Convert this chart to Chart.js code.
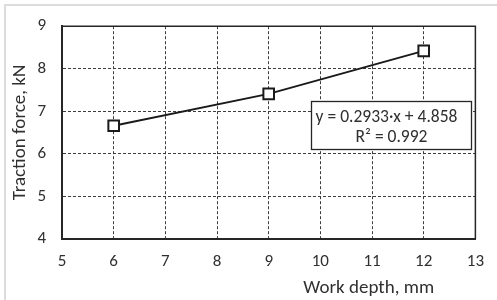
<!DOCTYPE html>
<html>
<head>
<meta charset="utf-8">
<script src="https://cdn.jsdelivr.net/npm/chart.js@4/dist/chart.umd.min.js"></script>
<style>
  html, body { margin: 0; padding: 0; background: #fff; }
  #wrap { position: relative; width: 497px; height: 300px; }
</style>
</head>
<body>
<div id="wrap"><canvas id="c" width="497" height="300"></canvas></div>
<script>
// ---- data ----
const workDepth = [6, 9, 12];
const tractionForce = [6.66, 7.41, 8.42];
const xTickValues = [5, 6, 7, 8, 9, 10, 11, 12, 13];
const yTickValues = [4, 5, 6, 7, 8, 9];
const xAxisTitle = 'Work depth, mm';
const yAxisTitle = 'Traction force, kN';
const equationLines = ['y = 0.2933·x + 4.858', 'R² = 0.992'];

const FONT = 'Carlito, Lato, sans-serif';
const TEXT_COLOR = '#303030';

const points = workDepth.map((x, i) => ({ x: x, y: tractionForce[i] }));

const decorPlugin = {
  id: 'decor',
  beforeDraw(chart) {
    const ctx = chart.ctx;
    ctx.save();
    ctx.fillStyle = '#ffffff';
    ctx.fillRect(0, 0, chart.width, chart.height);
    ctx.strokeStyle = '#dcdcdc';
    ctx.lineWidth = 2;
    ctx.strokeRect(5, 5, chart.width + 20, chart.height + 20);
    ctx.restore();
  },
  afterDatasetsDraw(chart) {
    const ctx = chart.ctx;
    const a = chart.chartArea;
    ctx.save();
    // plot frame (top & right)
    ctx.strokeStyle = '#262626';
    ctx.lineWidth = 1.5;
    ctx.beginPath();
    ctx.moveTo(a.left, a.top);
    ctx.lineTo(a.right, a.top);
    ctx.lineTo(a.right, a.bottom);
    ctx.stroke();
    // equation box
    const w = a.right - a.left, h = a.bottom - a.top;
    const bx = Math.round(a.left + w * 0.603) + 0.5, by = Math.round(a.top + h * 0.353) + 0.5;
    const bw = Math.round(w * 0.388), bh = Math.round(h * 0.227);
    ctx.fillStyle = '#ffffff';
    ctx.fillRect(bx, by, bw, bh);
    ctx.strokeStyle = '#262626';
    ctx.lineWidth = 1.3;
    ctx.strokeRect(bx, by, bw, bh);
    ctx.fillStyle = TEXT_COLOR;
    ctx.font = '17.5px ' + FONT;
    ctx.textAlign = 'center';
    ctx.textBaseline = 'middle';
    ctx.fillText(equationLines[0], bx + bw / 2 - 5, by + 16);
    ctx.fillText(equationLines[1], bx + bw / 2, by + 36);
    // x-axis title
    ctx.font = '19px ' + FONT;
    ctx.fillText(xAxisTitle, a.left + w * 0.742, chart.height - 12);
    ctx.restore();
  }
};

new Chart(document.getElementById('c'), {
  type: 'scatter',
  data: {
    datasets: [{
      data: points,
      showLine: true,
      borderColor: '#1a1a1a',
      borderWidth: 2,
      pointStyle: 'rect',
      pointRadius: 7.5,
      pointHoverRadius: 7.5,
      pointBorderWidth: 2,
      pointBorderColor: '#1a1a1a',
      pointBackgroundColor: '#ffffff'
    }]
  },
  plugins: [decorPlugin],
  options: {
    responsive: false,
    animation: false,
    devicePixelRatio: 1,
    layout: { padding: { left: 0, right: 16, top: 19, bottom: 0 } },
    plugins: { legend: { display: false }, tooltip: { enabled: false } },
    scales: {
      x: {
        type: 'linear',
        min: xTickValues[0],
        max: xTickValues[xTickValues.length - 1],
        afterBuildTicks(scale) { scale.ticks = xTickValues.map(v => ({ value: v })); },
        afterFit(scale) { scale.height = 61; },
        grid: { color: '#3c3c3c', lineWidth: 1, drawTicks: false },
        border: { display: true, color: '#262626', width: 2, dash: [3, 2] },
        ticks: { color: TEXT_COLOR, font: { family: FONT, size: 17 }, padding: 13, maxRotation: 0 }
      },
      y: {
        type: 'linear',
        min: yTickValues[0],
        max: yTickValues[yTickValues.length - 1],
        afterBuildTicks(scale) { scale.ticks = yTickValues.map(v => ({ value: v })); },
        afterFit(scale) { scale.width = 62; },
        grid: { color: '#3c3c3c', lineWidth: 1, drawTicks: false },
        border: { display: true, color: '#262626', width: 2, dash: [3, 2] },
        ticks: { color: TEXT_COLOR, font: { family: FONT, size: 17 }, padding: 16 },
        title: { display: true, text: yAxisTitle, color: TEXT_COLOR, font: { family: FONT, size: 19 }, padding: { top: 9, bottom: 0 } }
      }
    }
  }
});
</script>
</body>
</html>
